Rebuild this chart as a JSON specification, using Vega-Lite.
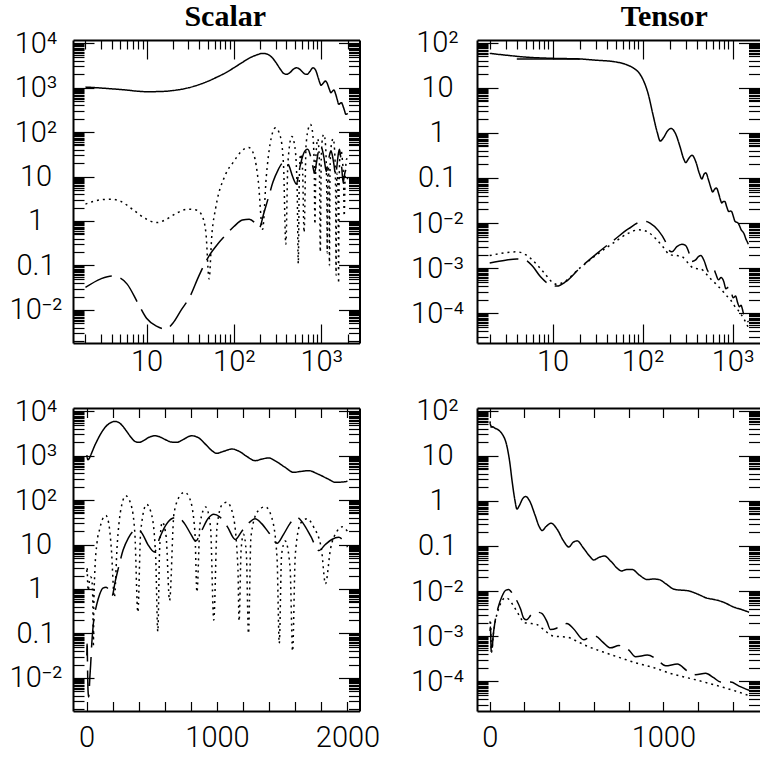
{
  "$schema": "https://vega.github.io/schema/vega-lite/v6.json",
  "background": "white",
  "padding": {"left": 9, "top": 1, "right": 0, "bottom": 0},
  "config": {
    "view": {"stroke": null},
    "axis": {"domainColor": "black", "domainWidth": 2, "tickColor": "black", "tickWidth": 1.2, "labelColor": "black", "labelFont": "Roboto", "labelFontWeight": 300, "labelFontSize": 29, "grid": false, "title": null, "labelOverlap": false, "labelFlush": false, "labelBound": false}
  },
  "datasets": {
    "scalar": [
      {"l":2,"v":1030,"s":"TT"},{"l":3,"v":980,"s":"TT"},{"l":4,"v":940,"s":"TT"},{"l":6,"v":880,"s":"TT"},{"l":8,"v":830,"s":"TT"},{"l":10,"v":810,"s":"TT"},{"l":15,"v":820,"s":"TT"},{"l":20,"v":860,"s":"TT"},{"l":30,"v":990,"s":"TT"},{"l":40,"v":1170,"s":"TT"},{"l":50,"v":1380,"s":"TT"},{"l":65,"v":1750,"s":"TT"},{"l":80,"v":2150,"s":"TT"},{"l":100,"v":2800,"s":"TT"},{"l":125,"v":3700,"s":"TT"},{"l":150,"v":4600,"s":"TT"},{"l":180,"v":5400,"s":"TT"},{"l":215,"v":5900,"s":"TT"},{"l":245,"v":5600,"s":"TT"},{"l":275,"v":4700,"s":"TT"},{"l":305,"v":3600,"s":"TT"},{"l":340,"v":2600,"s":"TT"},{"l":370,"v":2100,"s":"TT"},{"l":402,"v":1990,"s":"TT"},{"l":440,"v":2200,"s":"TT"},{"l":480,"v":2600,"s":"TT"},{"l":523,"v":2800,"s":"TT"},{"l":560,"v":2650,"s":"TT"},{"l":610,"v":2250,"s":"TT"},{"l":650,"v":2020,"s":"TT"},{"l":690,"v":1990,"s":"TT"},{"l":740,"v":2300,"s":"TT"},{"l":805,"v":2800,"s":"TT"},{"l":860,"v":2500,"s":"TT"},{"l":920,"v":1700,"s":"TT"},{"l":960,"v":1300,"s":"TT"},{"l":997,"v":1130,"s":"TT"},{"l":1050,"v":1250,"s":"TT"},{"l":1113,"v":1410,"s":"TT"},{"l":1170,"v":1250,"s":"TT"},{"l":1230,"v":950,"s":"TT"},{"l":1292,"v":770,"s":"TT"},{"l":1340,"v":830,"s":"TT"},{"l":1395,"v":890,"s":"TT"},{"l":1450,"v":750,"s":"TT"},{"l":1520,"v":550,"s":"TT"},{"l":1587,"v":422,"s":"TT"},{"l":1640,"v":440,"s":"TT"},{"l":1703,"v":460,"s":"TT"},{"l":1770,"v":390,"s":"TT"},{"l":1850,"v":300,"s":"TT"},{"l":1908,"v":251,"s":"TT"},{"l":1960,"v":255,"s":"TT"},{"l":2000,"v":265,"s":"TT"},
      {"l":2,"v":2.4,"s":"TE"},{"l":3,"v":3.0,"s":"TE"},{"l":4,"v":3.1,"s":"TE"},{"l":5,"v":2.8,"s":"TE"},{"l":7,"v":1.8,"s":"TE"},{"l":10,"v":1.1,"s":"TE"},{"l":13,"v":0.92,"s":"TE"},{"l":17,"v":1.1,"s":"TE"},{"l":22,"v":1.5,"s":"TE"},{"l":30,"v":1.85,"s":"TE"},{"l":38,"v":1.75,"s":"TE"},{"l":44,"v":1.2,"s":"TE"},{"l":48,"v":0.5,"s":"TE"},{"l":52,"v":0.05,"s":"TE"},{"l":56,"v":0.5,"s":"TE"},{"l":62,"v":2.0,"s":"TE"},{"l":80,"v":11,"s":"TE"},{"l":100,"v":22,"s":"TE"},{"l":120,"v":36,"s":"TE"},{"l":148,"v":45,"s":"TE"},{"l":170,"v":30,"s":"TE"},{"l":190,"v":8,"s":"TE"},{"l":213,"v":0.65,"s":"TE"},{"l":235,"v":10,"s":"TE"},{"l":260,"v":55,"s":"TE"},{"l":300,"v":125,"s":"TE"},{"l":340,"v":80,"s":"TE"},{"l":370,"v":18,"s":"TE"},{"l":393,"v":0.3,"s":"TE"},{"l":415,"v":20,"s":"TE"},{"l":460,"v":80,"s":"TE"},{"l":500,"v":45,"s":"TE"},{"l":530,"v":5,"s":"TE"},{"l":546,"v":0.11,"s":"TE"},{"l":560,"v":8,"s":"TE"},{"l":580,"v":32,"s":"TE"},{"l":610,"v":15,"s":"TE"},{"l":636,"v":0.55,"s":"TE"},{"l":670,"v":50,"s":"TE"},{"l":720,"v":130,"s":"TE"},{"l":751,"v":150,"s":"TE"},{"l":790,"v":110,"s":"TE"},{"l":830,"v":20,"s":"TE"},{"l":846,"v":0.85,"s":"TE"},{"l":870,"v":30,"s":"TE"},{"l":913,"v":70,"s":"TE"},{"l":950,"v":25,"s":"TE"},{"l":975,"v":0.2,"s":"TE"},{"l":1000,"v":25,"s":"TE"},{"l":1040,"v":80,"s":"TE"},{"l":1075,"v":89,"s":"TE"},{"l":1120,"v":50,"s":"TE"},{"l":1160,"v":3,"s":"TE"},{"l":1169,"v":0.19,"s":"TE"},{"l":1185,"v":8,"s":"TE"},{"l":1203,"v":17,"s":"TE"},{"l":1225,"v":6,"s":"TE"},{"l":1241,"v":0.1,"s":"TE"},{"l":1260,"v":15,"s":"TE"},{"l":1310,"v":55,"s":"TE"},{"l":1369,"v":71,"s":"TE"},{"l":1420,"v":40,"s":"TE"},{"l":1460,"v":5,"s":"TE"},{"l":1477,"v":0.06,"s":"TE"},{"l":1495,"v":6,"s":"TE"},{"l":1523,"v":12,"s":"TE"},{"l":1560,"v":3,"s":"TE"},{"l":1579,"v":0.04,"s":"TE"},{"l":1600,"v":6,"s":"TE"},{"l":1640,"v":30,"s":"TE"},{"l":1690,"v":38,"s":"TE"},{"l":1740,"v":25,"s":"TE"},{"l":1800,"v":8,"s":"TE"},{"l":1831,"v":1.3,"s":"TE"},{"l":1870,"v":8,"s":"TE"},{"l":1920,"v":20,"s":"TE"},{"l":1959,"v":25,"s":"TE"},{"l":2000,"v":20,"s":"TE"},
      {"l":2,"v":0.032,"s":"EE"},{"l":3,"v":0.05,"s":"EE"},{"l":4,"v":0.058,"s":"EE"},{"l":5,"v":0.052,"s":"EE"},{"l":6,"v":0.038,"s":"EE"},{"l":8,"v":0.014,"s":"EE"},{"l":10,"v":0.0065,"s":"EE"},{"l":13,"v":0.0043,"s":"EE"},{"l":16.6,"v":0.0037,"s":"EE"},{"l":20,"v":0.005,"s":"EE"},{"l":25,"v":0.01,"s":"EE"},{"l":31,"v":0.019,"s":"EE"},{"l":40,"v":0.06,"s":"EE"},{"l":52,"v":0.165,"s":"EE"},{"l":65,"v":0.3,"s":"EE"},{"l":78,"v":0.45,"s":"EE"},{"l":100,"v":0.75,"s":"EE"},{"l":125,"v":1.05,"s":"EE"},{"l":150,"v":1.1,"s":"EE"},{"l":175,"v":0.9,"s":"EE"},{"l":195,"v":0.7,"s":"EE"},{"l":220,"v":1.5,"s":"EE"},{"l":250,"v":3.5,"s":"EE"},{"l":280,"v":7.5,"s":"EE"},{"l":320,"v":14,"s":"EE"},{"l":367,"v":21,"s":"EE"},{"l":395,"v":22,"s":"EE"},{"l":430,"v":17,"s":"EE"},{"l":470,"v":10,"s":"EE"},{"l":520,"v":6.8,"s":"EE"},{"l":560,"v":14,"s":"EE"},{"l":610,"v":28,"s":"EE"},{"l":660,"v":39,"s":"EE"},{"l":700,"v":41,"s":"EE"},{"l":750,"v":30,"s":"EE"},{"l":800,"v":17,"s":"EE"},{"l":836,"v":12,"s":"EE"},{"l":880,"v":20,"s":"EE"},{"l":930,"v":38,"s":"EE"},{"l":975,"v":48,"s":"EE"},{"l":1020,"v":42,"s":"EE"},{"l":1080,"v":25,"s":"EE"},{"l":1140,"v":13,"s":"EE"},{"l":1190,"v":20,"s":"EE"},{"l":1241,"v":30,"s":"EE"},{"l":1292,"v":38,"s":"EE"},{"l":1340,"v":30,"s":"EE"},{"l":1400,"v":18,"s":"EE"},{"l":1460,"v":10.7,"s":"EE"},{"l":1510,"v":17,"s":"EE"},{"l":1560,"v":30,"s":"EE"},{"l":1613,"v":41,"s":"EE"},{"l":1660,"v":30,"s":"EE"},{"l":1720,"v":15,"s":"EE"},{"l":1780,"v":7.3,"s":"EE"},{"l":1830,"v":10,"s":"EE"},{"l":1880,"v":13,"s":"EE"},{"l":1933,"v":14.5,"s":"EE"},{"l":1970,"v":12,"s":"EE"},{"l":2000,"v":8.7,"s":"EE"}
    ],
    "tensor": [
      {"l":2,"v":58,"s":"TT"},{"l":3,"v":53,"s":"TT"},{"l":5,"v":48,"s":"TT"},{"l":10,"v":45,"s":"TT"},{"l":20,"v":43.6,"s":"TT"},{"l":30,"v":41,"s":"TT"},{"l":48,"v":38,"s":"TT"},{"l":65,"v":33,"s":"TT"},{"l":80,"v":27,"s":"TT"},{"l":92,"v":21,"s":"TT"},{"l":103,"v":14,"s":"TT"},{"l":115,"v":7.5,"s":"TT"},{"l":130,"v":2.6,"s":"TT"},{"l":145,"v":1.05,"s":"TT"},{"l":157,"v":0.66,"s":"TT"},{"l":172,"v":0.8,"s":"TT"},{"l":190,"v":1.12,"s":"TT"},{"l":208,"v":1.25,"s":"TT"},{"l":230,"v":1.0,"s":"TT"},{"l":260,"v":0.5,"s":"TT"},{"l":285,"v":0.27,"s":"TT"},{"l":302,"v":0.22,"s":"TT"},{"l":325,"v":0.27,"s":"TT"},{"l":354,"v":0.32,"s":"TT"},{"l":390,"v":0.23,"s":"TT"},{"l":425,"v":0.13,"s":"TT"},{"l":456,"v":0.095,"s":"TT"},{"l":480,"v":0.12,"s":"TT"},{"l":504,"v":0.13,"s":"TT"},{"l":540,"v":0.09,"s":"TT"},{"l":575,"v":0.06,"s":"TT"},{"l":600,"v":0.049,"s":"TT"},{"l":630,"v":0.056,"s":"TT"},{"l":661,"v":0.06,"s":"TT"},{"l":700,"v":0.045,"s":"TT"},{"l":735,"v":0.032,"s":"TT"},{"l":758,"v":0.028,"s":"TT"},{"l":790,"v":0.03,"s":"TT"},{"l":821,"v":0.03,"s":"TT"},{"l":860,"v":0.023,"s":"TT"},{"l":908,"v":0.018,"s":"TT"},{"l":945,"v":0.0185,"s":"TT"},{"l":975,"v":0.018,"s":"TT"},{"l":1020,"v":0.014,"s":"TT"},{"l":1061,"v":0.011,"s":"TT"},{"l":1100,"v":0.0105,"s":"TT"},{"l":1140,"v":0.0102,"s":"TT"},{"l":1200,"v":0.0085,"s":"TT"},{"l":1250,"v":0.007,"s":"TT"},{"l":1292,"v":0.0065,"s":"TT"},{"l":1340,"v":0.0058,"s":"TT"},{"l":1407,"v":0.0044,"s":"TT"},{"l":1450,"v":0.0039,"s":"TT"},{"l":1494,"v":0.0034,"s":"TT"},
      {"l":4,"v":43.5,"s":"TT2"},{"l":20,"v":43.6,"s":"TT2"},
      {"l":2,"v":0.0013,"s":"EE"},{"l":3,"v":0.0015,"s":"EE"},{"l":4,"v":0.0016,"s":"EE"},{"l":5,"v":0.0015,"s":"EE"},{"l":6,"v":0.0011,"s":"EE"},{"l":7.3,"v":0.00065,"s":"EE"},{"l":9,"v":0.00045,"s":"EE"},{"l":11.2,"v":0.0004,"s":"EE"},{"l":14,"v":0.0005,"s":"EE"},{"l":20,"v":0.001,"s":"EE"},{"l":30,"v":0.002,"s":"EE"},{"l":48,"v":0.0042,"s":"EE"},{"l":70,"v":0.0075,"s":"EE"},{"l":94,"v":0.0105,"s":"EE"},{"l":110,"v":0.0108,"s":"EE"},{"l":122,"v":0.0098,"s":"EE"},{"l":150,"v":0.0068,"s":"EE"},{"l":178,"v":0.004,"s":"EE"},{"l":196,"v":0.0025,"s":"EE"},{"l":212,"v":0.0023,"s":"EE"},{"l":240,"v":0.003,"s":"EE"},{"l":273,"v":0.0034,"s":"EE"},{"l":300,"v":0.0032,"s":"EE"},{"l":330,"v":0.0021,"s":"EE"},{"l":350,"v":0.0014,"s":"EE"},{"l":385,"v":0.0015,"s":"EE"},{"l":417,"v":0.0018,"s":"EE"},{"l":445,"v":0.0019,"s":"EE"},{"l":480,"v":0.0015,"s":"EE"},{"l":542,"v":0.00083,"s":"EE"},{"l":575,"v":0.00095,"s":"EE"},{"l":610,"v":0.001,"s":"EE"},{"l":650,"v":0.00075,"s":"EE"},{"l":696,"v":0.00055,"s":"EE"},{"l":744,"v":0.00062,"s":"EE"},{"l":802,"v":0.00049,"s":"EE"},{"l":840,"v":0.00035,"s":"EE"},{"l":908,"v":0.00038,"s":"EE"},{"l":965,"v":0.0003,"s":"EE"},{"l":1013,"v":0.00022,"s":"EE"},{"l":1081,"v":0.00024,"s":"EE"},{"l":1138,"v":0.00017,"s":"EE"},{"l":1186,"v":0.00014,"s":"EE"},{"l":1244,"v":0.00015,"s":"EE"},{"l":1290,"v":0.00012,"s":"EE"},{"l":1330,"v":0.000096,"s":"EE"},{"l":1388,"v":0.000096,"s":"EE"},{"l":1436,"v":0.000078,"s":"EE"},{"l":1494,"v":0.000063,"s":"EE"},
      {"l":2,"v":0.0019,"s":"BB"},{"l":3,"v":0.0022,"s":"BB"},{"l":4,"v":0.0023,"s":"BB"},{"l":5,"v":0.002,"s":"BB"},{"l":6,"v":0.0015,"s":"BB"},{"l":8,"v":0.0008,"s":"BB"},{"l":10,"v":0.00048,"s":"BB"},{"l":11,"v":0.00044,"s":"BB"},{"l":13,"v":0.00048,"s":"BB"},{"l":20,"v":0.001,"s":"BB"},{"l":30,"v":0.0019,"s":"BB"},{"l":48,"v":0.0037,"s":"BB"},{"l":70,"v":0.006,"s":"BB"},{"l":90,"v":0.0071,"s":"BB"},{"l":110,"v":0.0066,"s":"BB"},{"l":140,"v":0.0045,"s":"BB"},{"l":170,"v":0.0029,"s":"BB"},{"l":200,"v":0.002,"s":"BB"},{"l":240,"v":0.0019,"s":"BB"},{"l":273,"v":0.0018,"s":"BB"},{"l":320,"v":0.0013,"s":"BB"},{"l":369,"v":0.001,"s":"BB"},{"l":446,"v":0.00095,"s":"BB"},{"l":500,"v":0.00078,"s":"BB"},{"l":562,"v":0.0006,"s":"BB"},{"l":650,"v":0.00045,"s":"BB"},{"l":754,"v":0.00033,"s":"BB"},{"l":850,"v":0.00025,"s":"BB"},{"l":946,"v":0.0002,"s":"BB"},{"l":1040,"v":0.00015,"s":"BB"},{"l":1138,"v":0.00012,"s":"BB"},{"l":1240,"v":0.000095,"s":"BB"},{"l":1330,"v":0.000076,"s":"BB"},{"l":1420,"v":0.00006,"s":"BB"},{"l":1494,"v":0.000048,"s":"BB"}
    ]
  },
  "columns": 2,
  "spacing": {"row": 65, "column": 117},
  "bounds": "flush",
  "concat": [
    {
      "width": 286.5, "height": 303,
      "title": {"text": "Scalar", "font": "Liberation Serif", "fontWeight": "bold", "fontSize": 30, "color": "black", "anchor": "middle", "dx": 9, "frame": "group", "baseline": "alphabetic", "offset": -27},
      "data": {"name": "scalar"},
      "layer": [
        {
          "mark": {"type": "line", "interpolate": "monotone", "color": "black", "strokeWidth": 1.5, "clip": true},
          "encoding": {
            "x": {"field": "l", "type": "quantitative", "scale": {"type": "log", "domain": [1.44, 2740], "nice": false},
              "axis": {"orient": "bottom", "values": [2,3,4,5,6,7,8,9,10,20,30,40,50,60,70,80,90,100,200,300,400,500,600,700,800,900,1000,2000],
                "labelExpr": "datum.value == 10 ? '10' : datum.value == 100 ? '10²' : datum.value == 1000 ? '10³' : ''",
                "tickSize": {"condition": {"test": "datum.value == 10 || datum.value == 100 || datum.value == 1000", "value": -19}, "value": -9},
                "labelPadding": 46.5, "labelBaseline": "alphabetic", "labelAlign": "center"}},
            "y": {"field": "v", "type": "quantitative", "scale": {"type": "log", "domain": [0.0018, 11800], "nice": false},
              "axis": {"orient": "left", "values": [0.002,0.003,0.004,0.005,0.0055,0.006,0.0065,0.007,0.0075,0.008,0.0085,0.009,0.0095,0.01,0.02,0.03,0.04,0.05,0.055,0.06,0.065,0.07,0.075,0.08,0.085,0.09,0.095,0.1,0.2,0.3,0.4,0.5,0.55,0.6,0.65,0.7,0.75,0.8,0.85,0.9,0.95,1,2,3,4,5,5.5,6,6.5,7,7.5,8,8.5,9,9.5,10,20,30,40,50,55,60,65,70,75,80,85,90,95,100,200,300,400,500,550,600,650,700,750,800,850,900,950,1000,2000,3000,4000,5000,5500,6000,6500,7000,7500,8000,8500,9000,9500,10000],
                "labelExpr": "datum.value == 10000 ? '10⁴' : datum.value == 1000 ? '10³' : datum.value == 100 ? '10²' : datum.value == 10 ? '10' : datum.value == 1 ? '1' : datum.value == 0.1 ? '0.1' : datum.value == 0.01 ? '10⁻²' : ''",
                "tickSize": {"condition": {"test": "abs(log(datum.value)/LN10 - round(log(datum.value)/LN10)) < 0.001", "value": -21}, "value": -11},
                "labelPadding": 58.5, "labelAlign": "center", "labelBaseline": "middle"}},
            "strokeDash": {"field": "s", "type": "nominal", "scale": {"domain": ["TT", "TE", "EE"], "range": [[1, 0], [2, 4], [29, 9]]}, "legend": null}
          }
        },
        {
          "mark": {"type": "point", "opacity": 0},
          "encoding": {
            "x": {"field": "l", "type": "quantitative", "scale": {"type": "log", "domain": [1.44, 2740], "nice": false},
              "axis": {"orient": "top", "labels": false, "values": [2,3,4,5,6,7,8,9,10,20,30,40,50,60,70,80,90,100,200,300,400,500,600,700,800,900,1000,2000],
                "tickSize": {"condition": {"test": "datum.value == 10 || datum.value == 100 || datum.value == 1000", "value": -19}, "value": -9}}},
            "y": {"field": "v", "type": "quantitative", "scale": {"type": "log", "domain": [0.0018, 11800], "nice": false},
              "axis": {"orient": "right", "labels": false, "values": [0.002,0.003,0.004,0.005,0.0055,0.006,0.0065,0.007,0.0075,0.008,0.0085,0.009,0.0095,0.01,0.02,0.03,0.04,0.05,0.055,0.06,0.065,0.07,0.075,0.08,0.085,0.09,0.095,0.1,0.2,0.3,0.4,0.5,0.55,0.6,0.65,0.7,0.75,0.8,0.85,0.9,0.95,1,2,3,4,5,5.5,6,6.5,7,7.5,8,8.5,9,9.5,10,20,30,40,50,55,60,65,70,75,80,85,90,95,100,200,300,400,500,550,600,650,700,750,800,850,900,950,1000,2000,3000,4000,5000,5500,6000,6500,7000,7500,8000,8500,9000,9500,10000],
                "tickSize": {"condition": {"test": "abs(log(datum.value)/LN10 - round(log(datum.value)/LN10)) < 0.001", "value": -21}, "value": -11}}}
          }
        }
      ],
      "resolve": {"axis": {"x": "independent", "y": "independent"}}
    },
    {
      "width": 282.5, "height": 303,
      "title": {"text": "Tensor", "font": "Liberation Serif", "fontWeight": "bold", "fontSize": 30, "color": "black", "anchor": "middle", "dx": 46, "frame": "group", "baseline": "alphabetic", "offset": -27},
      "data": {"name": "tensor"},
      "layer": [
        {
          "mark": {"type": "line", "interpolate": "monotone", "color": "black", "strokeWidth": 1.5, "clip": true},
          "encoding": {
            "x": {"field": "l", "type": "quantitative", "scale": {"type": "log", "domain": [1.445, 1990], "nice": false},
              "axis": {"orient": "bottom", "values": [2,3,4,5,6,7,8,9,10,20,30,40,50,60,70,80,90,100,200,300,400,500,600,700,800,900,1000],
                "labelExpr": "datum.value == 10 ? '10' : datum.value == 100 ? '10²' : datum.value == 1000 ? '10³' : ''",
                "tickSize": {"condition": {"test": "datum.value == 10 || datum.value == 100 || datum.value == 1000", "value": -19}, "value": -9},
                "labelPadding": 46.5, "labelBaseline": "alphabetic", "labelAlign": "center"}},
            "y": {"field": "v", "type": "quantitative", "scale": {"type": "log", "domain": [0.0000219, 114.8], "nice": false},
              "axis": {"orient": "left", "values": [0.00003,0.00004,0.00005,0.000055,0.00006,0.000065,0.00007,0.000075,0.00008,0.000085,0.00009,0.000095,0.0001,0.0002,0.0003,0.0004,0.0005,0.00055,0.0006,0.00065,0.0007,0.00075,0.0008,0.00085,0.0009,0.00095,0.001,0.002,0.003,0.004,0.005,0.0055,0.006,0.0065,0.007,0.0075,0.008,0.0085,0.009,0.0095,0.01,0.02,0.03,0.04,0.05,0.055,0.06,0.065,0.07,0.075,0.08,0.085,0.09,0.095,0.1,0.2,0.3,0.4,0.5,0.55,0.6,0.65,0.7,0.75,0.8,0.85,0.9,0.95,1,2,3,4,5,5.5,6,6.5,7,7.5,8,8.5,9,9.5,10,20,30,40,50,55,60,65,70,75,80,85,90,95,100],
                "labelExpr": "datum.value == 100 ? '10²' : datum.value == 10 ? '10' : datum.value == 1 ? '1' : datum.value == 0.1 ? '0.1' : datum.value == 0.01 ? '10⁻²' : datum.value == 0.001 ? '10⁻³' : datum.value == 0.0001 ? '10⁻⁴' : ''",
                "tickSize": {"condition": {"test": "abs(log(datum.value)/LN10 - round(log(datum.value)/LN10)) < 0.001", "value": -21}, "value": -11},
                "labelPadding": 61, "labelAlign": "center", "labelBaseline": "middle"}},
            "strokeDash": {"field": "s", "type": "nominal", "scale": {"domain": ["TT", "TT2", "EE", "BB"], "range": [[1, 0], [1, 0], [29, 9], [2, 4]]}, "legend": null}
          }
        },
        {
          "mark": {"type": "point", "opacity": 0},
          "encoding": {
            "x": {"field": "l", "type": "quantitative", "scale": {"type": "log", "domain": [1.445, 1990], "nice": false},
              "axis": {"orient": "top", "labels": false, "values": [2,3,4,5,6,7,8,9,10,20,30,40,50,60,70,80,90,100,200,300,400,500,600,700,800,900,1000],
                "tickSize": {"condition": {"test": "datum.value == 10 || datum.value == 100 || datum.value == 1000", "value": -19}, "value": -9}}},
            "y": {"field": "v", "type": "quantitative", "scale": {"type": "log", "domain": [0.0000219, 114.8], "nice": false},
              "axis": {"orient": "right", "labels": false, "domain": false, "values": [0.00003,0.00004,0.00005,0.000055,0.00006,0.000065,0.00007,0.000075,0.00008,0.000085,0.00009,0.000095,0.0001,0.0002,0.0003,0.0004,0.0005,0.00055,0.0006,0.00065,0.0007,0.00075,0.0008,0.00085,0.0009,0.00095,0.001,0.002,0.003,0.004,0.005,0.0055,0.006,0.0065,0.007,0.0075,0.008,0.0085,0.009,0.0095,0.01,0.02,0.03,0.04,0.05,0.055,0.06,0.065,0.07,0.075,0.08,0.085,0.09,0.095,0.1,0.2,0.3,0.4,0.5,0.55,0.6,0.65,0.7,0.75,0.8,0.85,0.9,0.95,1,2,3,4,5,5.5,6,6.5,7,7.5,8,8.5,9,9.5,10,20,30,40,50,55,60,65,70,75,80,85,90,95,100],
                "tickSize": {"condition": {"test": "abs(log(datum.value)/LN10 - round(log(datum.value)/LN10)) < 0.001", "value": -21}, "value": -11}}}
          }
        }
      ],
      "resolve": {"axis": {"x": "independent", "y": "independent"}}
    },
    {
      "width": 286.5, "height": 303,
      "data": {"name": "scalar"},
      "layer": [
        {
          "mark": {"type": "line", "interpolate": "monotone", "color": "black", "strokeWidth": 1.5, "clip": true},
          "encoding": {
            "x": {"field": "l", "type": "quantitative", "scale": {"domain": [-104, 2092], "nice": false, "zero": false},
              "axis": {"orient": "bottom", "values": [0,200,400,600,800,1000,1200,1400,1600,1800,2000],
                "labelExpr": "datum.value % 1000 == 0 ? '' + datum.value : ''",
                "tickSize": -9.5, "labelPadding": 44.5, "labelBaseline": "alphabetic", "labelAlign": "center"}},
            "y": {"field": "v", "type": "quantitative", "scale": {"type": "log", "domain": [0.0018, 11800], "nice": false},
              "axis": {"orient": "left", "values": [0.002,0.003,0.004,0.005,0.0055,0.006,0.0065,0.007,0.0075,0.008,0.0085,0.009,0.0095,0.01,0.02,0.03,0.04,0.05,0.055,0.06,0.065,0.07,0.075,0.08,0.085,0.09,0.095,0.1,0.2,0.3,0.4,0.5,0.55,0.6,0.65,0.7,0.75,0.8,0.85,0.9,0.95,1,2,3,4,5,5.5,6,6.5,7,7.5,8,8.5,9,9.5,10,20,30,40,50,55,60,65,70,75,80,85,90,95,100,200,300,400,500,550,600,650,700,750,800,850,900,950,1000,2000,3000,4000,5000,5500,6000,6500,7000,7500,8000,8500,9000,9500,10000],
                "labelExpr": "datum.value == 10000 ? '10⁴' : datum.value == 1000 ? '10³' : datum.value == 100 ? '10²' : datum.value == 10 ? '10' : datum.value == 1 ? '1' : datum.value == 0.1 ? '0.1' : datum.value == 0.01 ? '10⁻²' : ''",
                "tickSize": {"condition": {"test": "abs(log(datum.value)/LN10 - round(log(datum.value)/LN10)) < 0.001", "value": -21}, "value": -11},
                "labelPadding": 58.5, "labelAlign": "center", "labelBaseline": "middle"}},
            "strokeDash": {"field": "s", "type": "nominal", "scale": {"domain": ["TT", "TE", "EE"], "range": [[1, 0], [2, 4], [29, 9]]}, "legend": null}
          }
        },
        {
          "mark": {"type": "point", "opacity": 0},
          "encoding": {
            "x": {"field": "l", "type": "quantitative", "scale": {"domain": [-104, 2092], "nice": false, "zero": false},
              "axis": {"orient": "top", "labels": false, "values": [0,200,400,600,800,1000,1200,1400,1600,1800,2000], "tickSize": -9.5}},
            "y": {"field": "v", "type": "quantitative", "scale": {"type": "log", "domain": [0.0018, 11800], "nice": false},
              "axis": {"orient": "right", "labels": false, "values": [0.002,0.003,0.004,0.005,0.0055,0.006,0.0065,0.007,0.0075,0.008,0.0085,0.009,0.0095,0.01,0.02,0.03,0.04,0.05,0.055,0.06,0.065,0.07,0.075,0.08,0.085,0.09,0.095,0.1,0.2,0.3,0.4,0.5,0.55,0.6,0.65,0.7,0.75,0.8,0.85,0.9,0.95,1,2,3,4,5,5.5,6,6.5,7,7.5,8,8.5,9,9.5,10,20,30,40,50,55,60,65,70,75,80,85,90,95,100,200,300,400,500,550,600,650,700,750,800,850,900,950,1000,2000,3000,4000,5000,5500,6000,6500,7000,7500,8000,8500,9000,9500,10000],
                "tickSize": {"condition": {"test": "abs(log(datum.value)/LN10 - round(log(datum.value)/LN10)) < 0.001", "value": -21}, "value": -11}}}
          }
        }
      ],
      "resolve": {"axis": {"x": "independent", "y": "independent"}}
    },
    {
      "width": 282.5, "height": 303,
      "data": {"name": "tensor"},
      "layer": [
        {
          "mark": {"type": "line", "interpolate": "monotone", "color": "black", "strokeWidth": 1.5, "clip": true},
          "encoding": {
            "x": {"field": "l", "type": "quantitative", "scale": {"domain": [-73, 1554], "nice": false, "zero": false},
              "axis": {"orient": "bottom", "values": [0,200,400,600,800,1000,1200,1400],
                "labelExpr": "datum.value % 1000 == 0 ? '' + datum.value : ''",
                "tickSize": -9.5, "labelPadding": 44.5, "labelBaseline": "alphabetic", "labelAlign": "center"}},
            "y": {"field": "v", "type": "quantitative", "scale": {"type": "log", "domain": [0.0000219, 114.8], "nice": false},
              "axis": {"orient": "left", "values": [0.00003,0.00004,0.00005,0.000055,0.00006,0.000065,0.00007,0.000075,0.00008,0.000085,0.00009,0.000095,0.0001,0.0002,0.0003,0.0004,0.0005,0.00055,0.0006,0.00065,0.0007,0.00075,0.0008,0.00085,0.0009,0.00095,0.001,0.002,0.003,0.004,0.005,0.0055,0.006,0.0065,0.007,0.0075,0.008,0.0085,0.009,0.0095,0.01,0.02,0.03,0.04,0.05,0.055,0.06,0.065,0.07,0.075,0.08,0.085,0.09,0.095,0.1,0.2,0.3,0.4,0.5,0.55,0.6,0.65,0.7,0.75,0.8,0.85,0.9,0.95,1,2,3,4,5,5.5,6,6.5,7,7.5,8,8.5,9,9.5,10,20,30,40,50,55,60,65,70,75,80,85,90,95,100],
                "labelExpr": "datum.value == 100 ? '10²' : datum.value == 10 ? '10' : datum.value == 1 ? '1' : datum.value == 0.1 ? '0.1' : datum.value == 0.01 ? '10⁻²' : datum.value == 0.001 ? '10⁻³' : datum.value == 0.0001 ? '10⁻⁴' : ''",
                "tickSize": {"condition": {"test": "abs(log(datum.value)/LN10 - round(log(datum.value)/LN10)) < 0.001", "value": -21}, "value": -11},
                "labelPadding": 61, "labelAlign": "center", "labelBaseline": "middle"}},
            "strokeDash": {"field": "s", "type": "nominal", "scale": {"domain": ["TT", "TT2", "EE", "BB"], "range": [[1, 0], [1, 0], [29, 9], [2, 4]]}, "legend": null}
          }
        },
        {
          "mark": {"type": "point", "opacity": 0},
          "encoding": {
            "x": {"field": "l", "type": "quantitative", "scale": {"domain": [-73, 1554], "nice": false, "zero": false},
              "axis": {"orient": "top", "labels": false, "values": [0,200,400,600,800,1000,1200,1400], "tickSize": -9.5}},
            "y": {"field": "v", "type": "quantitative", "scale": {"type": "log", "domain": [0.0000219, 114.8], "nice": false},
              "axis": {"orient": "right", "labels": false, "domain": false, "values": [0.00003,0.00004,0.00005,0.000055,0.00006,0.000065,0.00007,0.000075,0.00008,0.000085,0.00009,0.000095,0.0001,0.0002,0.0003,0.0004,0.0005,0.00055,0.0006,0.00065,0.0007,0.00075,0.0008,0.00085,0.0009,0.00095,0.001,0.002,0.003,0.004,0.005,0.0055,0.006,0.0065,0.007,0.0075,0.008,0.0085,0.009,0.0095,0.01,0.02,0.03,0.04,0.05,0.055,0.06,0.065,0.07,0.075,0.08,0.085,0.09,0.095,0.1,0.2,0.3,0.4,0.5,0.55,0.6,0.65,0.7,0.75,0.8,0.85,0.9,0.95,1,2,3,4,5,5.5,6,6.5,7,7.5,8,8.5,9,9.5,10,20,30,40,50,55,60,65,70,75,80,85,90,95,100],
                "tickSize": {"condition": {"test": "abs(log(datum.value)/LN10 - round(log(datum.value)/LN10)) < 0.001", "value": -21}, "value": -11}}}
          }
        }
      ],
      "resolve": {"axis": {"x": "independent", "y": "independent"}}
    }
  ]
}
